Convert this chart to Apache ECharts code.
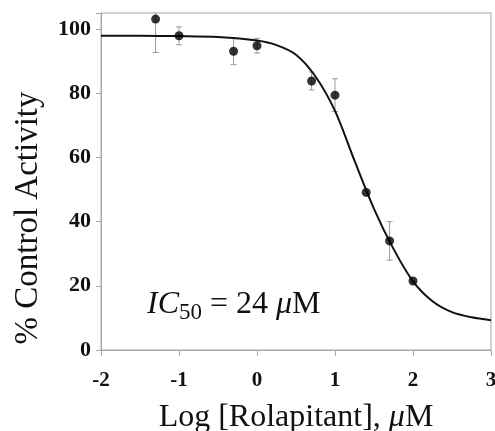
<!DOCTYPE html>
<html>
<head>
<meta charset="utf-8">
<script src="https://cdn.jsdelivr.net/npm/echarts@6/dist/echarts.min.js"></script>
<style>
  html, body { margin: 0; padding: 0; background: #fff; }
  #chart { width: 495px; height: 431px; }
</style>
</head>
<body>
<div id="chart"></div>
<script>
// measured points (log µM) with SD
const logConc = [-1.3, -1, -0.3, 0, 0.7, 1, 1.4, 1.7, 2];
const activity = [103.1, 97.9, 93.1, 94.8, 83.8, 79.4, 49.1, 34.0, 21.5];
const errSD = [10.4, 2.8, 4.2, 2.3, 2.8, 5.1, 0, 6, 0];

// fitted curve
const curveX = [-2, -1.5, -1, -0.5, 0, 0.25, 0.5, 0.75, 1.0, 1.25, 1.5, 1.75, 2.0, 2.25, 2.5, 2.75, 3];
const curveY = [97.9, 97.9, 97.8, 97.5, 96.4, 95, 92, 85.2, 74.5, 59, 44, 31.5, 21.4, 15.2, 11.8, 10.2, 9.3];

const xTicks = [-2, -1, 0, 1, 2, 3];
const yTicks = [0, 20, 40, 60, 80, 100];

const serif = "'Liberation Serif', 'Times New Roman', serif";
const gray = '#a6a6a6';

const chart = echarts.init(document.getElementById('chart'));

const option = {
    animation: false,
    grid: {
        left: 101,
        right: 4,
        top: 13,
        bottom: 81,
        outerBoundsMode: 'none',
        containLabel: false,
        show: true,
        borderColor: gray,
        borderWidth: 1
    },
    xAxis: {
        type: 'value',
        min: -2,
        max: 3,
        interval: 1,
        name: 'Log [Rolapitant], {i|μ}M',
        nameLocation: 'middle',
        nameGap: 52,
        nameTextStyle: {
            fontFamily: serif,
            fontSize: 32,
            color: '#111',
            rich: { i: { fontFamily: serif, fontSize: 32, fontStyle: 'italic', color: '#111' } }
        },
        axisLine: { lineStyle: { color: gray } },
        axisTick: { lineStyle: { color: gray }, length: 6 },
        axisLabel: {
            fontFamily: serif, fontWeight: 'bold', fontSize: 21, color: '#111', margin: 20,
            formatter: v => xTicks.includes(v) ? String(v) : ''
        },
        splitLine: { show: false }
    },
    yAxis: {
        type: 'value',
        min: 0,
        max: 105,
        interval: 20,
        axisLine: { show: true, onZero: false, lineStyle: { color: gray } },
        axisTick: { show: true, lineStyle: { color: gray }, length: 5 },
        axisLabel: {
            fontFamily: serif, fontWeight: 'bold', fontSize: 22, color: '#111', margin: 10,
            formatter: v => yTicks.includes(v) ? String(v) : ''
        },
        splitLine: { show: false }
    },
    graphic: [{
        type: 'text',
        x: 28,
        y: 218,
        rotation: Math.PI / 2,
        style: {
            text: '% Control Activity',
            fontFamily: serif,
            fontSize: 33,
            fill: '#111',
            align: 'center',
            verticalAlign: 'middle'
        }
    }, {
        type: 'text',
        left: 147,
        top: 289,
        style: {
            text: '{it|IC}{sub|50}{n| = 24 }{it|μ}{n|M}',
            rich: {
                it: { fontFamily: serif, fontSize: 32, fontStyle: 'italic', fill: '#111', lineHeight: 38 },
                n: { fontFamily: serif, fontSize: 32, fill: '#111', lineHeight: 38 },
                sub: { fontFamily: serif, fontSize: 23, fill: '#111', lineHeight: 14, verticalAlign: 'bottom' }
            }
        }
    }],
    series: [
        {
            type: 'line',
            data: curveX.map((x, i) => [x, curveY[i]]),
            smooth: 0.3,
            showSymbol: false,
            lineStyle: { color: '#111', width: 2 },
            z: 2
        },
        {
            type: 'custom',
            data: logConc.map((x, i) => [x, activity[i], errSD[i]]),
            clip: true,
            renderItem: function (params, api) {
                const x = api.value(0), y = api.value(1), e = api.value(2);
                if (!e) return;
                const hi = api.coord([x, y + e]);
                const lo = api.coord([x, y - e]);
                const w = 3;
                const st = { stroke: '#999', lineWidth: 1 };
                return {
                    type: 'group',
                    children: [
                        { type: 'line', shape: { x1: hi[0], y1: hi[1], x2: lo[0], y2: lo[1] }, style: st },
                        { type: 'line', shape: { x1: hi[0] - w, y1: hi[1], x2: hi[0] + w, y2: hi[1] }, style: st },
                        { type: 'line', shape: { x1: lo[0] - w, y1: lo[1], x2: lo[0] + w, y2: lo[1] }, style: st }
                    ]
                };
            },
            z: 1
        },
        {
            type: 'scatter',
            data: logConc.map((x, i) => [x, activity[i]]),
            symbolSize: 9,
            itemStyle: { color: '#000' },
            z: 3
        }
    ]
};

chart.setOption(option);
</script>
</body>
</html>
